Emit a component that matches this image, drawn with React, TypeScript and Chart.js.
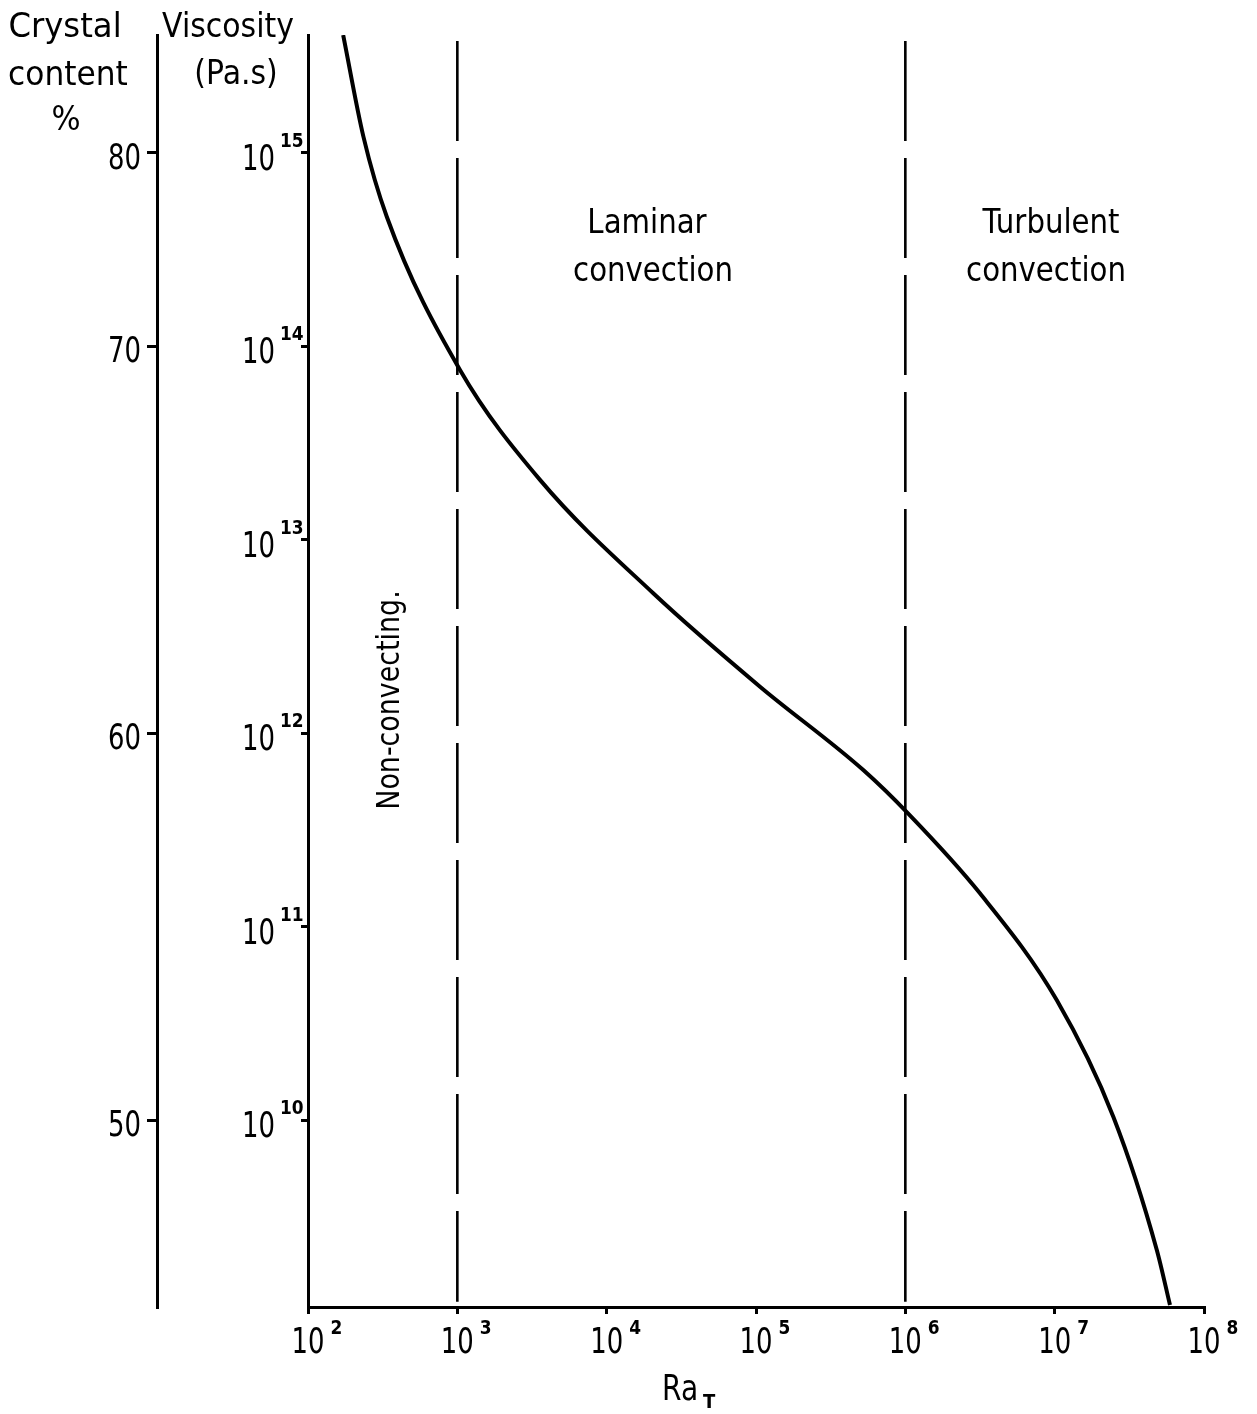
import React, { useEffect, useRef } from "react";
import { Chart, registerables } from "chart.js";

Chart.register(...registerables);

// ---- Data ----
const raValues = [172, 235, 337, 1042, 3578, 20510, 1.064e5, 5.23e5, 1.042e6, 3.16e6, 1.032e7, 2.47e7, 4.83e7, 5.92e7];
const viscosityValues = [4.07e15, 1.214e15, 4.68e14, 7.55e13, 2.04e13, 5.29e12, 1.74e12, 6.45e11, 3.85e11, 1.486e11, 4.17e10, 1.04e10, 2.13e9, 1.105e9];

const raTicks = [1e2, 1e3, 1e4, 1e5, 1e6, 1e7, 1e8];
const raTickExponents = ["2", "3", "4", "5", "6", "7", "8"];
const viscosityTicks = [1e15, 1e14, 1e13, 1e12, 1e11, 1e10];
const viscosityTickExponents = ["15", "14", "13", "12", "11", "10"];
const crystalTickLabels = ["80", "70", "60", "50"];
const crystalTickAtViscosity = [1e15, 1e14, 1e12, 1e10];

const regimeBoundaries = [1e3, 1e6];
const boundaryTop = 3.79e15;
const boundaryBottom = 1.15e9;

const X_MIN = 1e2;
const X_MAX = 1e8;
const Y_MIN = 1.08e9;
const Y_MAX = 4.07e15;

const FONT = '"DejaVu Sans", "Liberation Sans", sans-serif';

function drawText(
  ctx: CanvasRenderingContext2D,
  s: string,
  x: number,
  y: number,
  o: { size: number; sx?: number; align?: CanvasTextAlign; baseline?: CanvasTextBaseline; bold?: boolean; rotate?: number }
) {
  ctx.save();
  ctx.translate(x, y);
  if (o.rotate) ctx.rotate(o.rotate);
  ctx.scale(o.sx ?? 1, 1);
  ctx.font = `${o.bold ? "bold " : ""}${o.size}px ${FONT}`;
  ctx.textAlign = o.align ?? "left";
  ctx.textBaseline = o.baseline ?? "alphabetic";
  ctx.fillStyle = "#000";
  ctx.fillText(s, 0, 0);
  ctx.restore();
}

function textWidth(ctx: CanvasRenderingContext2D, s: string, size: number, sx: number, bold = false) {
  ctx.save();
  ctx.font = `${bold ? "bold " : ""}${size}px ${FONT}`;
  const w = ctx.measureText(s).width * sx;
  ctx.restore();
  return w;
}

const DIG = 36;
const DIG_SX = 0.72;
const EXP = 20;
const EXP_SX = 0.85;
const WORD = 34;
const WORD_SX = 0.86;

const textPlugin = {
  id: "textPlugin",
  afterDraw(chart: any) {
    const ctx: CanvasRenderingContext2D = chart.ctx;
    const xs = chart.scales.x;
    const ys = chart.scales.y;
    const yc = chart.scales.yC;

    // Crystal content tick labels
    crystalTickLabels.forEach((lab, i) => {
      const py = yc.getPixelForValue(crystalTickAtViscosity[i]);
      drawText(ctx, lab, yc.right - 16, py + 16, { size: DIG, sx: DIG_SX, align: "right" });
    });

    // Viscosity tick labels 10^n
    viscosityTicks.forEach((v, i) => {
      const py = ys.getPixelForValue(v);
      const rx = ys.right - 33;
      drawText(ctx, "10", rx, py + 17, { size: DIG, sx: DIG_SX, align: "right" });
      drawText(ctx, viscosityTickExponents[i], rx + 5, py - 6, { size: EXP, sx: EXP_SX, bold: true });
    });

    // Ra tick labels 10^n
    raTicks.forEach((v, i) => {
      const px = xs.getPixelForValue(v);
      const w = textWidth(ctx, "10", DIG, DIG_SX);
      drawText(ctx, "10", px, xs.top + 46, { size: DIG, sx: DIG_SX, align: "center" });
      drawText(ctx, raTickExponents[i], px + w / 2 + 6, xs.top + 27, { size: EXP, sx: EXP_SX, bold: true });
    });

    // Axis title Ra_T
    drawText(ctx, "Ra", 662, 1400, { size: DIG, sx: 0.78 });
    drawText(ctx, "T", 703, 1408, { size: EXP, sx: 0.9, bold: true });

    // Left titles
    drawText(ctx, "Crystal", 65, 37, { size: WORD, sx: 0.95, align: "center" });
    drawText(ctx, "content", 68, 85, { size: WORD, sx: 0.92, align: "center" });
    drawText(ctx, "%", 66, 130, { size: WORD, sx: 0.9, align: "center" });
    drawText(ctx, "Viscosity", 228, 37, { size: WORD, sx: 0.88, align: "center" });
    drawText(ctx, "(Pa.s)", 236, 84, { size: WORD, sx: 0.88, align: "center" });

    // Regime annotations
    drawText(ctx, "Laminar", 647, 233, { size: WORD, sx: WORD_SX, align: "center" });
    drawText(ctx, "convection", 653, 281, { size: WORD, sx: WORD_SX, align: "center" });
    drawText(ctx, "Turbulent", 1051, 233, { size: WORD, sx: WORD_SX, align: "center" });
    drawText(ctx, "convection", 1046, 281, { size: WORD, sx: WORD_SX, align: "center" });
    drawText(ctx, "Non-convecting.", 399, 700, { size: 32, sx: 0.84, align: "center", rotate: -Math.PI / 2 });
  },
};

const tickGrid = (len: number) => ({
  display: true,
  drawOnChartArea: false,
  drawTicks: true,
  tickLength: len,
  lineWidth: 3,
  color: "#000",
});
const axisBorder = { display: true, width: 3, color: "#000" };

export default function App() {
  const ref = useRef<HTMLCanvasElement | null>(null);

  useEffect(() => {
    if (!ref.current) return;
    const curve = raValues.map((x, i) => ({ x, y: viscosityValues[i] }));
    const boundaries = regimeBoundaries.map((b) => ({
      data: [
        { x: b, y: boundaryTop },
        { x: b, y: boundaryBottom },
      ],
      borderColor: "#000",
      borderWidth: 2.6,
      borderDash: [100, 17],
      pointRadius: 0,
      fill: false,
      xAxisID: "x",
      yAxisID: "y",
    }));

    const chart = new Chart(ref.current, {
      type: "line",
      data: {
        datasets: [
          {
            data: curve,
            borderColor: "#000",
            borderWidth: 4,
            pointRadius: 0,
            fill: false,
            cubicInterpolationMode: "monotone",
            xAxisID: "x",
            yAxisID: "y",
          },
          ...boundaries,
        ],
      } as any,
      options: {
        responsive: false,
        animation: false,
        devicePixelRatio: 1,
        layout: { padding: { top: 35, right: 53, bottom: 0, left: 0 } },
        plugins: { legend: { display: false }, tooltip: { enabled: false } },
        scales: {
          x: {
            type: "logarithmic",
            position: "bottom",
            min: X_MIN,
            max: X_MAX,
            afterBuildTicks: (s: any) => {
              s.ticks = raTicks.map((v) => ({ value: v }));
            },
            afterFit: (s: any) => {
              s.height = 107;
            },
            ticks: { display: false },
            grid: tickGrid(7),
            border: axisBorder,
          },
          y: {
            type: "logarithmic",
            position: "left",
            weight: 0,
            min: Y_MIN,
            max: Y_MAX,
            afterBuildTicks: (s: any) => {
              s.ticks = viscosityTicks.map((v) => ({ value: v }));
            },
            afterFit: (s: any) => {
              s.width = 151;
            },
            ticks: { display: false },
            grid: tickGrid(7),
            border: axisBorder,
          },
          yC: {
            type: "logarithmic",
            position: "left",
            weight: 1,
            min: Y_MIN,
            max: Y_MAX,
            afterBuildTicks: (s: any) => {
              s.ticks = crystalTickAtViscosity.map((v) => ({ value: v }));
            },
            afterFit: (s: any) => {
              s.width = 157;
            },
            ticks: { display: false },
            grid: tickGrid(10),
            border: axisBorder,
          },
        },
      } as any,
      plugins: [textPlugin],
    });
    return () => chart.destroy();
  }, []);

  return (
    <div style={{ position: "absolute", left: 0, top: 0, width: 1257, height: 1414, background: "#fff" }}>
      <canvas ref={ref} width={1257} height={1414} style={{ width: 1257, height: 1414, display: "block" }} />
    </div>
  );
}
